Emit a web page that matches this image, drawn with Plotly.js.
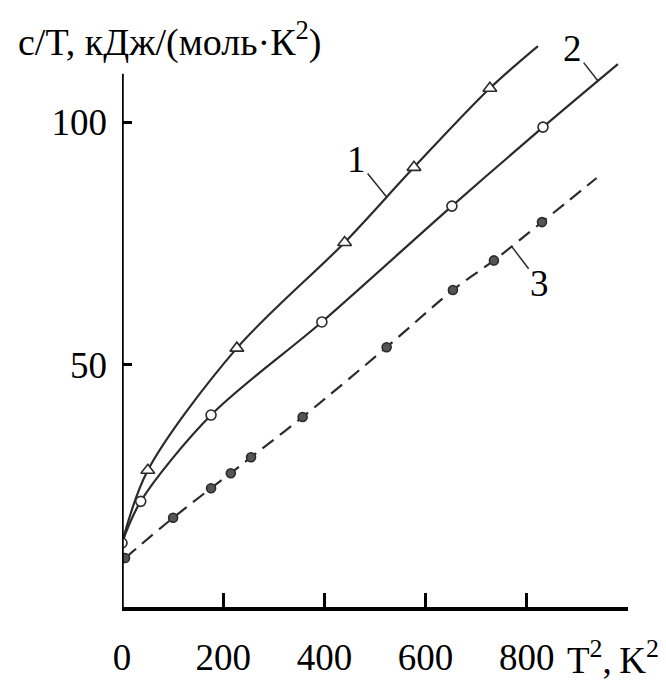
<!DOCTYPE html>
<html>
<head>
<meta charset="utf-8">
<script src="https://cdn.plot.ly/plotly-3.0.1.min.js"></script>
<style>
  html, body { margin: 0; padding: 0; background: #fff; }
  #chart { width: 666px; height: 682px; }
</style>
</head>
<body>
<div id="chart"></div>
<script>
// Curve 1 (open triangles): c/T vs T^2
const t2Curve1 = [0, 51, 227, 440, 577, 727, 822];
const cT1 = [13.2, 28.2, 53.4, 75.2, 90.7, 107.0, 115.7];

// Curve 2 (open circles)
const t2Curve2 = [0, 37, 176, 395, 652, 832, 980];
const cT2 = [13.2, 21.8, 39.6, 58.8, 82.7, 99.0, 112.0];

// Curve 3 (filled circles, dashed)
const t2Curve3 = [6, 101, 176, 215, 255, 357, 523, 654, 735, 830, 938];
const cT3 = [10.1, 18.4, 24.5, 27.6, 30.9, 39.2, 53.6, 65.4, 71.5, 79.4, 88.5];

// Axis ticks and labels
const xTickVals = [0, 200, 400, 600, 800];
const xTickText = ['0', '200', '400', '600', '800'];
const yTickVals = [50, 100];
const yTickText = ['50', '100'];

// Curve numbers and the points their leader lines touch
const curveLabels = ['1', '2', '3'];
const labelPointX = [523, 940, 770];
const labelPointY = [84.6, 108.6, 74.4];

const FONT = 'Liberation Serif, Times New Roman, serif';
const INK = '#2b2b2b';

function lineTrace(x, y, dash) {
  return {
    x: x, y: y, type: 'scatter', mode: 'lines', hoverinfo: 'skip',
    line: { color: INK, width: 2.2, shape: 'spline', smoothing: 0.9, dash: dash || 'solid' }
  };
}
function markerTrace(x, y, symbol, fill, size) {
  return {
    x: x, y: y, type: 'scatter', mode: 'markers', hoverinfo: 'skip',
    marker: { symbol: symbol, size: size, color: fill, line: { color: INK, width: 1.6 } }
  };
}

const traces = [
  lineTrace(t2Curve1, cT1),
  lineTrace(t2Curve2, cT2),
  lineTrace(t2Curve3, cT3, '14px,8px'),
  // the first point of curve 1 is the shared start drawn by curve 2
  markerTrace(t2Curve1.slice(1, -1), cT1.slice(1, -1), 'triangle-up', '#fff', 12),
  markerTrace(t2Curve2.slice(0, -1), cT2.slice(0, -1), 'circle', '#fff', 10),
  markerTrace(t2Curve3.slice(0, -1), cT3.slice(0, -1), 'circle', '#555', 9)
];

const labelOffsets = [[-30, -37], [-25, -32], [28, 37]];
const annotations = curveLabels.map((t, i) => ({
  x: labelPointX[i], y: labelPointY[i], xref: 'x', yref: 'y',
  text: t, showarrow: true, arrowhead: 0, arrowwidth: 1.5, arrowcolor: INK,
  ax: labelOffsets[i][0], ay: labelOffsets[i][1],
  font: { family: FONT, size: 37, color: '#000' }
}));

annotations.push({
  xref: 'paper', yref: 'paper', x: -0.21, y: 0.992,
  xanchor: 'left', yanchor: 'middle', showarrow: false,
  text: 'c/T, кДж/(моль·К<sup>2</sup>)',
  font: { family: FONT, size: 38, color: '#000' }
});
annotations.push({
  xref: 'paper', yref: 'paper', x: 0.875, y: -0.089,
  xanchor: 'left', yanchor: 'middle', showarrow: false,
  text: 'T<sup>2</sup>,\u2009K<sup>2</sup>',
  font: { family: FONT, size: 37, color: '#000' }
});

const layout = {
  width: 666, height: 682,
  margin: { l: 122, r: 38, t: 35, b: 75 },
  paper_bgcolor: '#fff', plot_bgcolor: '#fff',
  showlegend: false,
  font: { family: FONT, size: 37, color: '#000' },
  xaxis: {
    range: [0, 1000], showgrid: false, zeroline: false,
    showline: true, linecolor: '#000', linewidth: 3.5,
    tickmode: 'array', tickvals: xTickVals, ticktext: xTickText,
    ticks: 'inside', ticklen: 14, tickwidth: 3, tickcolor: '#000',
    ticklabelstandoff: 15
  },
  yaxis: {
    range: [0, 118], showgrid: false, zeroline: false, showline: false,
    tickmode: 'array', tickvals: yTickVals, ticktext: yTickText,
    ticks: 'inside', ticklen: 10, tickwidth: 3, tickcolor: '#000',
    ticklabelstandoff: 14
  },
  shapes: [
    { type: 'line', xref: 'x', yref: 'y', x0: 0, x1: 0, y0: 0, y1: 110,
      line: { color: '#000', width: 3.5 } }
  ],
  annotations: annotations
};

Plotly.newPlot('chart', traces, layout, { displayModeBar: false, staticPlot: true });
</script>
</body>
</html>
